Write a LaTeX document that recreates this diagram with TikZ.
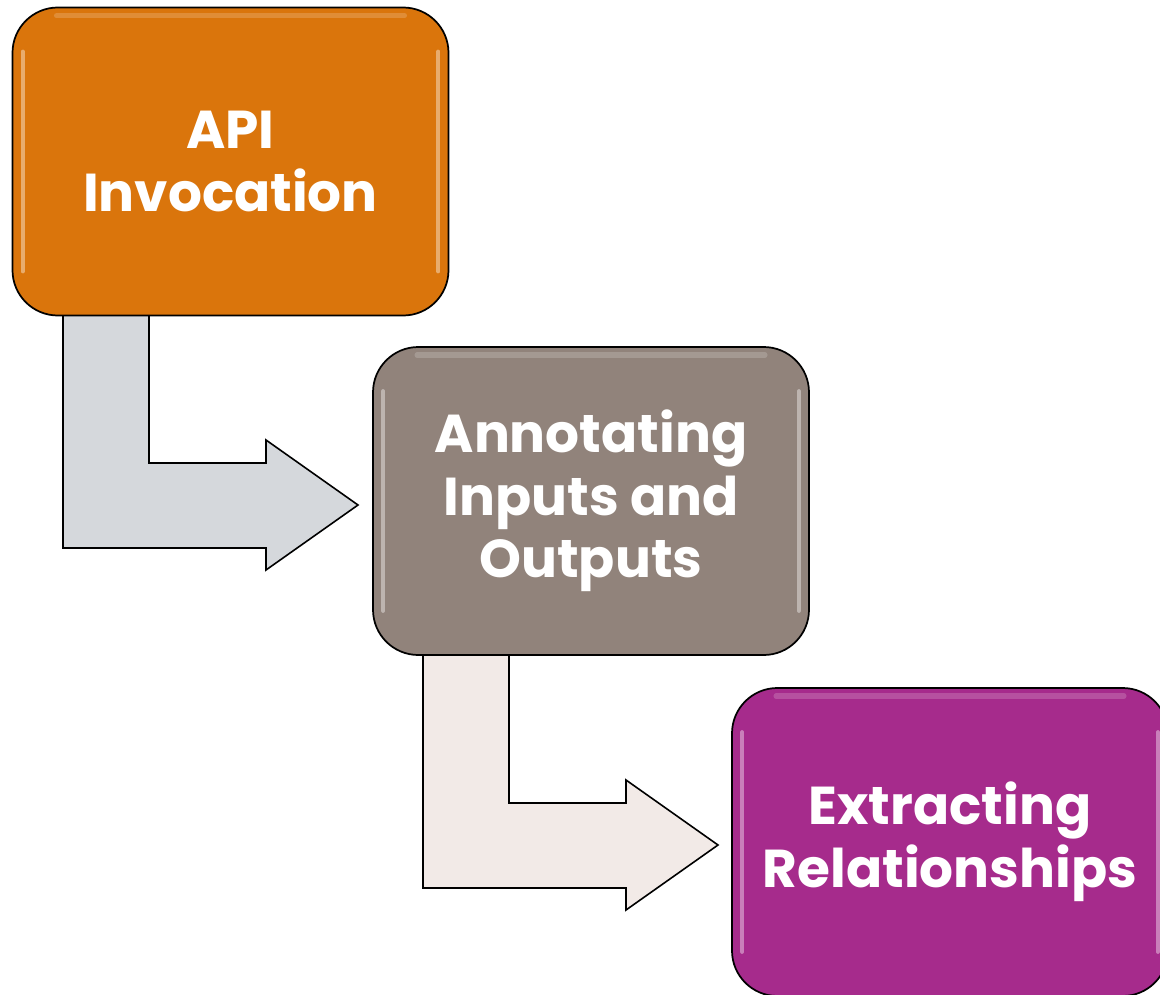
\documentclass[tikz,border=0pt]{standalone}
\usepackage{fontspec}
\setmainfont{Poppins}
\usetikzlibrary{calc}
\definecolor{orangebox}{HTML}{DA750C}
\definecolor{graybox}{HTML}{91837B}
\definecolor{purplebox}{HTML}{A62B8C}
\definecolor{arrowone}{HTML}{D5D8DC}
\definecolor{arrowtwo}{HTML}{F2EAE7}
\tikzset{
  stepbox/.style={rectangle, rounded corners=34pt, draw=black, line width=1.3pt,
    minimum width=327pt, minimum height=231pt, inner sep=0pt,
    text=white, align=center, font=\fontsize{40}{47}\selectfont\bfseries},
  bentarrow/.style={draw=black, line width=1.2pt, line join=miter},
  gloss/.style={draw=white, opacity=0.4, line width=3pt, line cap=round},
  glosstop/.style={draw=white, opacity=0.18, line width=4pt, line cap=round}
}
\begin{document}
\begin{tikzpicture}[x=0.75pt,y=-0.75pt]
\useasboundingbox (0,0) rectangle (1160,995);
\clip (0,0) rectangle (1160,995);
% bent arrows
\coordinate (a1s) at (63,315);
\draw[bentarrow, fill=arrowone] (a1s) -- (149,315) -- (149,463) -- (266,463) -- (266,440)
  -- (358,505) -- (266,570) -- (266,548) -- (63,548) -- cycle;
\coordinate (a2s) at (423,655);
\draw[bentarrow, fill=arrowtwo] (a2s) -- (509,655) -- (509,803) -- (626,803) -- (626,780)
  -- (718,845) -- (626,910) -- (626,888) -- (423,888) -- cycle;
% boxes
\node[stepbox, fill=orangebox] (b1) at (230.5,161.5) {API\\Invocation};
\node[stepbox, fill=graybox] (b2) at (591,501) {Annotating\\Inputs and\\Outputs};
\node[stepbox, fill=purplebox] (b3) at (950,842) {Extracting\\Relationships};
\foreach \b in {b1,b2,b3}{
  \draw[gloss] ($(\b.north west)+(11,45)$) -- ($(\b.south west)+(11,-45)$);
  \draw[gloss] ($(\b.north east)+(-11,45)$) -- ($(\b.south east)+(-11,-45)$);
  \draw[glosstop] ($(\b.north west)+(45,9)$) -- ($(\b.north east)+(-45,9)$);
}
\end{tikzpicture}
\end{document}
